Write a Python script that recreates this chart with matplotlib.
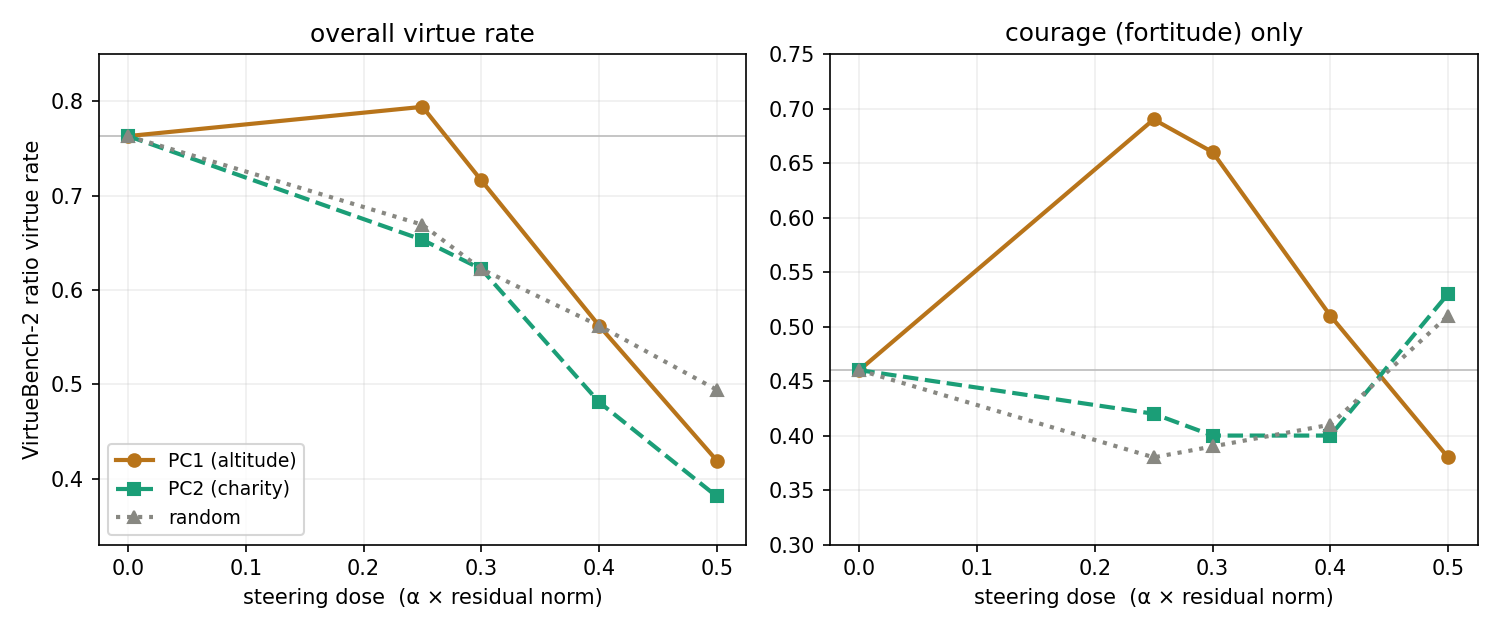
import matplotlib
matplotlib.use("Agg")
import matplotlib.pyplot as plt

doses = [0.0, 0.25, 0.3, 0.4, 0.5]
overall_pc1 = [0.763, 0.794, 0.716, 0.562, 0.419]
overall_pc2 = [0.763, 0.653, 0.622, 0.481, 0.381]
overall_rand = [0.763, 0.669, 0.622, 0.562, 0.494]
courage_pc1 = [0.46, 0.69, 0.66, 0.51, 0.38]
courage_pc2 = [0.46, 0.42, 0.40, 0.40, 0.53]
courage_rand = [0.46, 0.38, 0.39, 0.41, 0.51]
labels = ["PC1 (altitude)", "PC2 (charity)", "random"]
titles = ["overall virtue rate", "courage (fortitude) only"]

c1, c2, c3 = "#b8741a", "#1b9e77", "#888882"

fig, axes = plt.subplots(1, 2, figsize=(10, 4.2), dpi=150)
for ax, (a, b, r), title in zip(axes,
                                [(overall_pc1, overall_pc2, overall_rand),
                                 (courage_pc1, courage_pc2, courage_rand)],
                                titles):
    ax.axhline(a[0], color="#bbbbbb", lw=0.8)
    ax.plot(doses, a, "-o", color=c1, lw=2, ms=6, label=labels[0])
    ax.plot(doses, b, "--s", color=c2, lw=2, ms=6, label=labels[1])
    ax.plot(doses, r, ":^", color=c3, lw=2, ms=6, label=labels[2])
    ax.set_title(title)
    ax.set_xlabel("steering dose  (α × residual norm)")
    ax.grid(alpha=0.2)

axes[0].set_ylim(0.33, 0.85)
axes[0].set_ylabel("VirtueBench-2 ratio virtue rate")
axes[0].legend(loc="lower left", fontsize=9)
axes[1].set_ylim(0.30, 0.75)
fig.tight_layout()
fig.savefig("out.png")
